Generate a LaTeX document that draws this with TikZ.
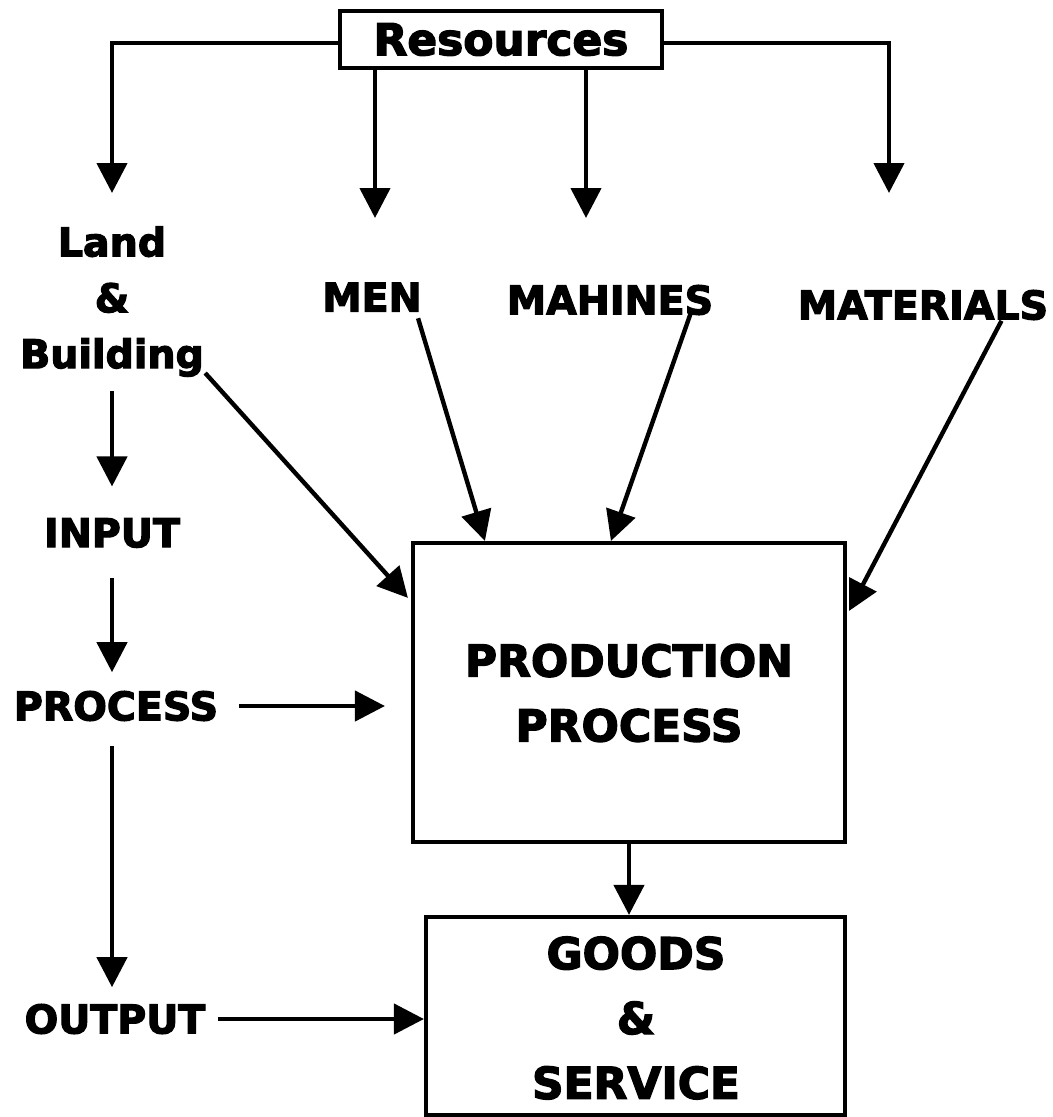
\documentclass[tikz,border=0pt]{standalone}
\usepackage{fontspec}
\setmainfont{DejaVu Sans}[BoldFeatures={FakeBold=3}]
\usetikzlibrary{arrows.meta}
\begin{document}
\begin{tikzpicture}[x=0.02cm,y=-0.02cm,
  lbl/.style={font=\bfseries\fontsize{22.5}{31.8}\selectfont, inner sep=0pt, align=center},
  big/.style={font=\bfseries\fontsize{25}{36.9}\selectfont, inner sep=0pt, align=center},
  box/.style={draw, line width=2.4pt, inner sep=0pt},
  arr/.style={line width=2.5pt, -{Triangle[length=0.6cm,width=0.6cm]}}]
\useasboundingbox (0,0) rectangle (1053,1117);

% boxes
\node[box, minimum width=6.44cm, minimum height=1.14cm,
      font=\bfseries\fontsize{25}{30}\selectfont] (res) at (501,39.5) {Resources};
\node[box, minimum width=8.64cm, minimum height=5.98cm] (prod) at (629,692.5) {};
\node[box, minimum width=8.38cm, minimum height=3.96cm] (goods) at (635.5,1016) {};
\node[big] (prodtext) at (629,693) {PRODUCTION\\PROCESS};
\node[big] (goodstext) at (636,1018) {GOODS\\\&\\SERVICE};

% labels
\node[lbl, anchor=north] (land) at (112,226) {Land\\\&\\Building};
\node[lbl] (men) at (372,297) {MEN};
\node[lbl] (mach) at (610,300) {MAHINES};
\node[lbl] (mat) at (923,305) {MATERIALS};
\node[lbl] (input) at (112,533) {INPUT};
\node[lbl] (proc) at (116,706) {PROCESS};
\node[lbl] (out) at (115,1019) {OUTPUT};

% resource branches
\coordinate (tl) at (112,193);
\coordinate (tr) at (889,193);
\coordinate (tm1) at (375,218);
\coordinate (tm2) at (586,218);
\draw[arr] ([shift={(0,3.5)}]res.west) -| (tl);
\draw[arr] ([shift={(0,3.5)}]res.east) -| (tr);
\draw[arr] (res.south -| tm1) -- (tm1);
\draw[arr] (res.south -| tm2) -- (tm2);

% left column
\draw[arr, shorten <=0.28cm, shorten >=0.63cm] (land.south) -- (input.north);
\draw[arr, shorten <=0.6cm, shorten >=0.37cm] (input.south) -- (input.south |- proc.north);
\draw[arr, shorten <=0.49cm, shorten >=0.33cm] (input.south |- proc.south) -- (input.south |- out.north);
\draw[arr, shorten <=0.41cm, shorten >=0.52cm] (proc.east) -- (proc.east -| prod.west);
\draw[arr, shorten <=0.24cm] (out.east) -- (out.east -| goods.west);

% inputs into the production process
\draw[arr] ([shift={(1,-4)}]land.south east) -- ([shift={(-3,57)}]prod.north west);
\draw[arr] ([shift={(-4,6.5)}]men.south east) -- ([shift={(74,0)}]prod.north west);
\draw[arr] ([shift={(-23,-1.5)}]mach.south east) -- ([shift={(200,0)}]prod.north west);
\draw[arr] ([shift={(-47,0.5)}]mat.south east) -- ([shift={(2,70)}]prod.north east);

% production to goods
\draw[arr] (prod.south) -- (prod.south |- goods.north);
\end{tikzpicture}
\end{document}
